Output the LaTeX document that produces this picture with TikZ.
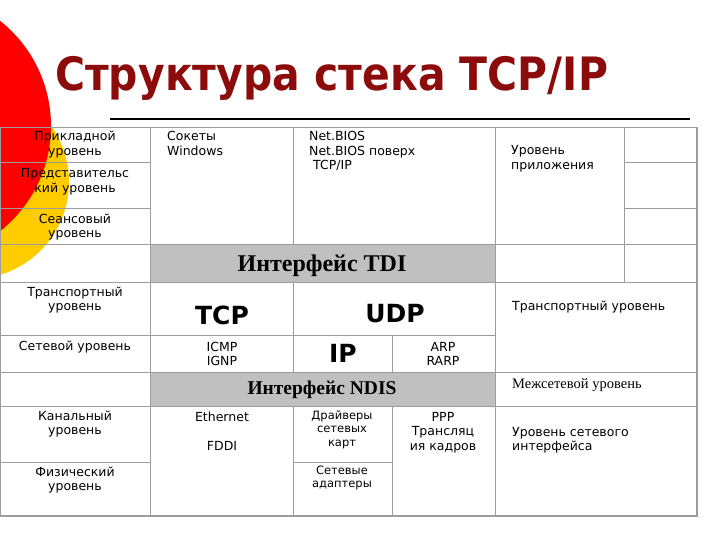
\documentclass[tikz,border=0pt]{standalone}
\usepackage{fontspec}
\usepackage{tikz}
\setmainfont{DejaVu Sans}
\newfontfamily\serifface{Liberation Serif}
\definecolor{title}{HTML}{8C0C0C}
\definecolor{grid}{HTML}{9C9C9C}
\definecolor{cellgrey}{HTML}{C0C0C0}
\definecolor{redc}{HTML}{FF0000}
\definecolor{yellowc}{HTML}{FFCC00}
\tikzset{
  gridline/.style={draw=grid, line width=0.8pt},
  frameline/.style={draw=grid, line width=2pt},
  rule/.style={draw=black, line width=1.3pt},
  cell/.style={font=\fontsize{12.5}{14.5}\selectfont, align=center, anchor=base, inner sep=0pt},
  cellleft/.style={cell, align=left, anchor=base west},
  small/.style={font=\fontsize{11.5}{13.5}\selectfont},
  big/.style={font=\bfseries\fontsize{25}{30}\selectfont, anchor=base, inner sep=0pt},
  iface/.style={font=\serifface\bfseries\fontsize{24}{28}\selectfont, anchor=base, inner sep=0pt},
  note/.style={font=\serifface\fontsize{14.5}{16}\selectfont, anchor=base west, inner sep=0pt}
}

\begin{document}
\begin{tikzpicture}[x=1pt, y=-1pt]
  \useasboundingbox (0,0) rectangle (720,540);
  \clip (0,0) rectangle (720,540);

  \fill[yellowc] (-28,182) circle (97);
  \fill[redc] (-83,126) circle (134);

  \node[font=\bfseries\fontsize{46}{50}\selectfont, text=title, anchor=base west, inner sep=0pt]
    (title) at (55,91) {\scalebox{0.89}[1]{Структура стека TCP/IP}};
  \draw[rule] (110,119) -- (690,119);

  \fill[cellgrey] (150,244) rectangle (495,282);
  \fill[cellgrey] (150,372) rectangle (495,406);

  \draw[gridline] (0,162) -- (150,162) (624,162) -- (697,162);
  \draw[gridline] (0,208) -- (150,208) (624,208) -- (697,208);
  \draw[gridline] (0,244) -- (697,244);
  \draw[gridline] (0,282) -- (697,282);
  \draw[gridline] (0,335) -- (495,335);
  \draw[gridline] (0,372) -- (697,372);
  \draw[gridline] (0,406) -- (697,406);
  \draw[gridline] (0,462) -- (150,462) (293,462) -- (392,462);
  \draw[gridline] (150,127) -- (150,516);
  \draw[gridline] (293,127) -- (293,244) (293,282) -- (293,372) (293,406) -- (293,516);
  \draw[gridline] (392,335) -- (392,372) (392,406) -- (392,516);
  \draw[gridline] (495,127) -- (495,516);
  \draw[gridline] (624,127) -- (624,282);
  \draw[gridline] (697,127) -- (0,127) -- (0,516);
  \draw[frameline] (0,516) -- (697,516) -- (697,127);

  \node[cell] (app) at (75,155.5) {Прикладной\\уровень};
  \node[cell] (pres) at (75,192.5) {Представительс\\кий уровень};
  \node[cell] (sess) at (75,237.5) {Сеансовый\\уровень};
  \node[cell] (trans) at (75,310.5) {Транспортный\\уровень};
  \node[cell] (net) at (75,350) {Сетевой уровень};
  \node[cell] (link) at (75,434.5) {Канальный\\уровень};
  \node[cell] (phys) at (75,490.5) {Физический\\уровень};

  \node[cellleft] (sock) at (167,155.5) {Сокеты\\Windows};
  \node[cellleft] (nbios) at (309,155.5) {Net.BIOS\\Net.BIOS поверх};
  \node[cellleft] (nbtcp) at (313,170) {TCP/IP};
  \node[cellleft] (appl) at (511,169.5) {Уровень\\приложения};

  \node[iface] (tdi) at (322,271) {Интерфейс TDI};

  \node[big] (tcp) at (222,324) {TCP};
  \node[big] (udp) at (395,322) {UDP};
  \node[cellleft] (transl) at (512,310) {Транспортный уровень};

  \node[cell] (icmp) at (222,365.5) {ICMP\\IGNP};
  \node[big] (ip) at (343,362) {IP};
  \node[cell] (arp) at (443,365.5) {ARP\\RARP};

  \node[iface, font=\serifface\bfseries\fontsize{19.5}{22}\selectfont] (ndis) at (322,394) {Интерфейс NDIS};
  \node[note] (inet) at (512,388) {Межсетевой уровень};

  \node[cell] (eth) at (222,421) {Ethernet};
  \node[cell] (fddi) at (222,450) {FDDI};
  \node[cell, small] (drv) at (342,446) {Драйверы\\сетевых\\карт};
  \node[cell, small] (adp) at (342,487.5) {Сетевые\\адаптеры};
  \node[cell] (ppp) at (443,450) {PPP\\Трансляц\\ия кадров};
  \node[cellleft] (nif) at (512,450.5) {Уровень сетевого\\интерфейса};
\end{tikzpicture}
\end{document}
